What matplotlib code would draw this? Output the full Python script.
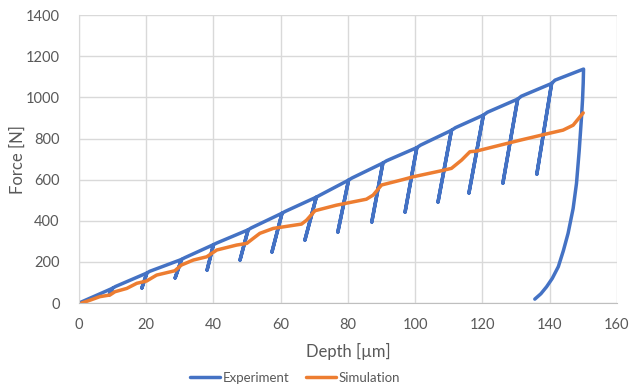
import matplotlib.pyplot as plt

# 实验数据: 加载峰值与卸载底点 (每10 µm一次循环)
peak_x = [10, 20.2, 30.5, 40, 50.3, 60.4, 70.6, 80.2, 90.4, 100.5, 110.8, 120.3, 130.5, 140.6]
peak_y = [72, 146, 212, 284, 356, 437, 515, 598, 681, 756, 840, 914, 992, 1068]
low_x = [9.0, 18.7, 28.6, 38.1, 47.9, 57.4, 67.2, 77.0, 87.1, 97.0, 106.8, 116.0, 126.1, 136.2]
low_y = [40, 73, 122, 160, 209, 248, 306, 345, 394, 442, 491, 535, 583, 627]
hook_x = [10.8, 21.0, 31.4, 41.0, 51.2, 61.4, 71.6, 81.2, 91.5, 101.6, 112.0, 121.5, 131.6, 141.6]
hook_y = [80, 154, 220, 292, 365, 446, 524, 608, 692, 768, 853, 928, 1006, 1084]
end_x = [150.1, 150.0, 149.8, 149.5, 148.8, 148.0, 147.0, 145.5, 144.1, 142.6, 140.8, 139.1, 137.4, 135.6]
end_y = [1138, 1070, 990, 906, 740, 582, 460, 339, 255, 177, 120, 79, 45, 19]

# 模拟数据
sim_x = [0.8, 3.5, 6.2, 9.2, 10.7, 14.2, 17.2, 20.1, 23.1, 28.5, 30.5, 34.0, 38.0, 41.0,
         46.9, 49.9, 51.8, 53.8, 57.8, 66.2, 67.7, 70.2, 76.6, 85.5, 87.5, 90.0, 96.5,
         99.4, 107.4, 110.8, 113.8, 116.3, 118.2, 131.2, 140.0, 144.0, 147.0, 150.0]
sim_y = [0, 15, 31, 39, 55, 71, 96, 107, 136, 157, 185, 209, 225, 258,
         282, 290, 314, 339, 363, 384, 403, 449, 476, 505, 525, 574, 601,
         614, 642, 655, 695, 736, 739, 792, 826, 841, 865, 925]

exp_x = [0.0]
exp_y = [0.0]
for i in range(len(peak_x)):
    exp_x += [peak_x[i], low_x[i], peak_x[i], hook_x[i]]
    exp_y += [peak_y[i], low_y[i], peak_y[i], hook_y[i]]
exp_x += end_x
exp_y += end_y

plt.rcParams['font.family'] = ['Lato', 'DejaVu Sans']
txt = '#595959'

fig = plt.figure(figsize=(6.32, 3.9), dpi=100)
ax = fig.add_axes([0.125, 0.223, 0.851, 0.738])

ax.plot(exp_x, exp_y, color='#4472C4', lw=2.5, label='Experiment',
        solid_joinstyle='round', solid_capstyle='round')
ax.plot(sim_x, sim_y, color='#ED7D31', lw=2.5, label='Simulation',
        solid_joinstyle='round', solid_capstyle='round')

ax.set_xlim(0, 160)
ax.set_ylim(0, 1400)
ax.set_xticks(range(0, 161, 20))
ax.set_yticks(range(0, 1401, 200))
ax.grid(True, color='#d9d9d9', lw=1)
ax.set_axisbelow(True)
for s in ['top', 'right']:
    ax.spines[s].set_visible(False)
ax.spines['left'].set_color('#d9d9d9')
ax.spines['bottom'].set_color('#bfbfbf')
ax.tick_params(length=0, labelsize=10.5, colors=txt)
ax.tick_params(axis='y', pad=14)
ax.tick_params(axis='x', pad=11)

ax.set_xlabel('Depth [µm]', fontsize=12, color=txt)
ax.set_ylabel('Force [N]', fontsize=12, color=txt)
ax.xaxis.set_label_coords(0.5, -0.139)
ax.yaxis.set_label_coords(-0.0985, 0.5)

ax.legend(loc='center', bbox_to_anchor=(0.467, 0.031), bbox_transform=fig.transFigure,
          ncol=2, frameon=False, fontsize=9.5, labelcolor=txt, handlelength=2.3,
          columnspacing=1.2, handletextpad=0.2)

fig.savefig('out.png', dpi=100)
